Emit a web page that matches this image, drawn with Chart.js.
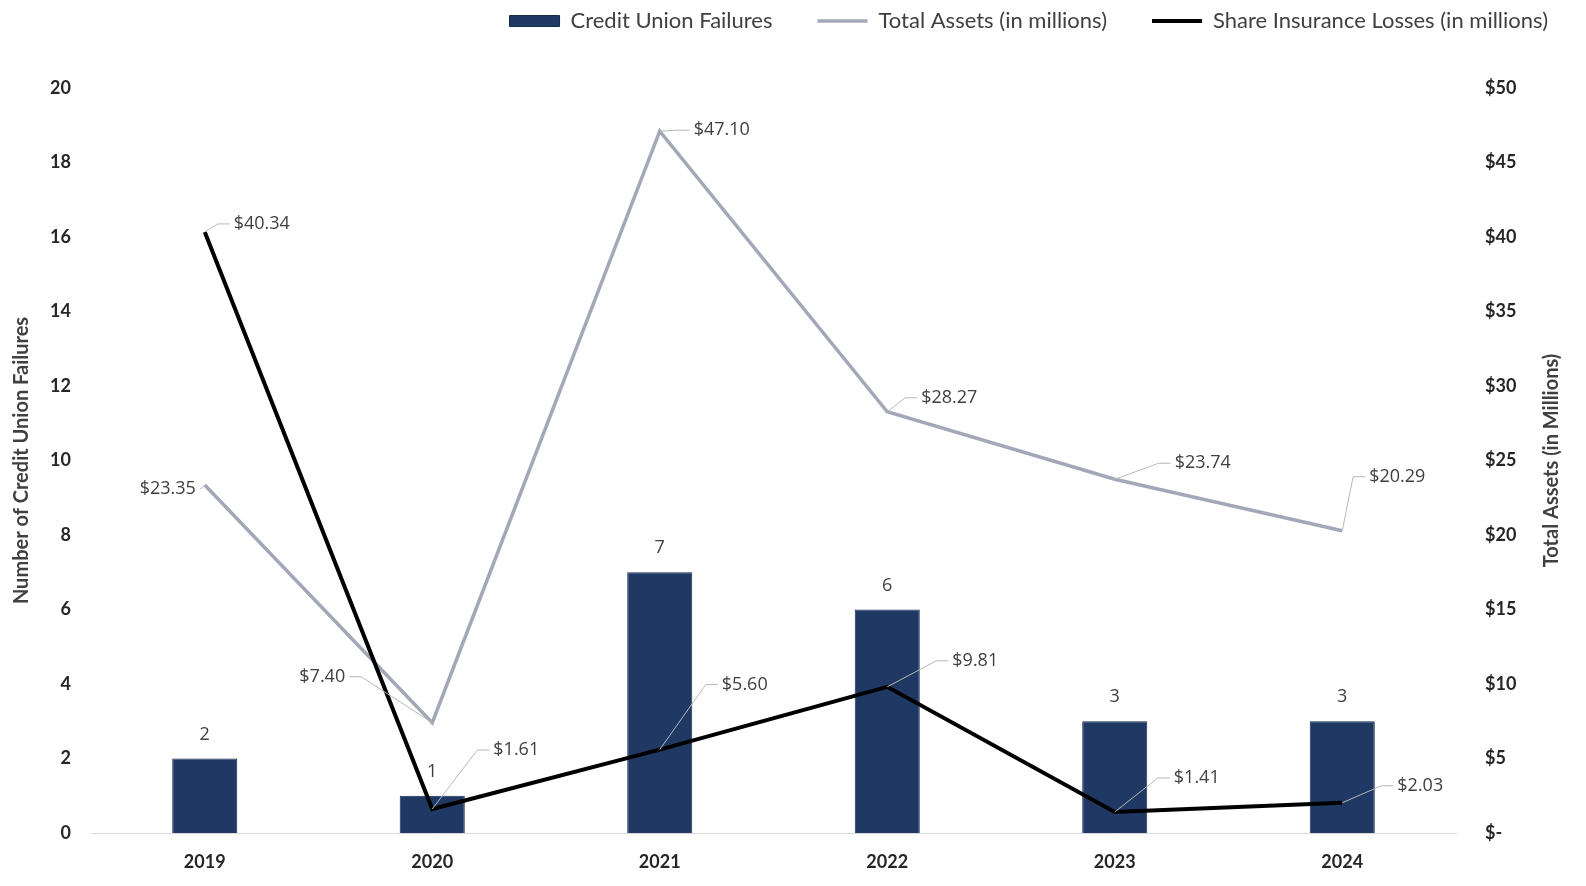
<!DOCTYPE html>
<html>
<head>
<meta charset="utf-8">
<script src="https://cdn.jsdelivr.net/npm/chart.js@4/dist/chart.umd.min.js"></script>
<style>
html,body{margin:0;padding:0;background:#fff;overflow:hidden;}
#wrap{width:1586px;height:886px;position:relative;overflow:hidden;}
canvas{display:block;}
</style>
</head>
<body>
<div id="wrap"><canvas id="c"></canvas></div>
<script>
// ---- data ----
const years = ['2019', '2020', '2021', '2022', '2023', '2024'];
const failures = [2, 1, 7, 6, 3, 3];
const totalAssets = [23.35, 7.40, 47.10, 28.27, 23.74, 20.29];
const insuranceLosses = [40.34, 1.61, 5.60, 9.81, 1.41, 2.03];
const leftTickLabels = ['0', '2', '4', '6', '8', '10', '12', '14', '16', '18', '20'];
const rightTickLabels = ['$-', '$5', '$10', '$15', '$20', '$25', '$30', '$35', '$40', '$45', '$50'];

// ---- label placement (pixel offsets of label centre from its point) ----
const assetLabelOffsets = [[-37, 4], [-110, -46], [62, -1], [62, -14], [88, -16], [55, -54]];
const lossLabelOffsets = [[57, -8], [84, -59], [85, -65], [88, -26], [82, -34], [78, -17]];

const TEXT = '#404040';
const FONT = 'Lato, "Open Sans", sans-serif';
const LABEL_FONT = '18px "Open Sans", sans-serif';

const layoutTweaks = {
  id: 'layoutTweaks',
  beforeLayout(chart) {
    const lg = chart.legend;
    if (lg && !lg._patched) {
      const orig = lg.fit;
      lg.fit = function () { orig.call(this); this.height = 88; };
      lg._patched = true;
    }
  },
  afterLayout(chart) {
    const lg = chart.legend;
    if (!lg) return;
    const pad = lg.options.labels.padding;
    const h = lg.bottom - lg.top;
    lg.top = 22 - pad - 12;
    lg.bottom = lg.top + h;
    lg.right = 1548 + pad;
  }
};

const valueLabels = {
  id: 'valueLabels',
  afterDatasetsDraw(chart) {
    const ctx = chart.ctx;
    ctx.save();
    ctx.font = LABEL_FONT;
    ctx.textAlign = 'center';
    ctx.textBaseline = 'middle';
    ctx.fillStyle = TEXT;
    const barMeta = chart.getDatasetMeta(0);
    barMeta.data.forEach((el, i) => {
      ctx.fillText(String(failures[i]), el.x, el.y - 24);
    });
    const sets = [[1, totalAssets, assetLabelOffsets], [2, insuranceLosses, lossLabelOffsets]];
    sets.forEach(([di, vals, offs]) => {
      const meta = chart.getDatasetMeta(di);
      meta.data.forEach((pt, i) => {
        const text = '$' + vals[i].toFixed(2);
        const w = ctx.measureText(text).width;
        const cx = pt.x + offs[i][0];
        const cy = pt.y + offs[i][1];
        const rightSide = offs[i][0] >= 0;
        const edgeX = rightSide ? cx - w / 2 - 4 : cx + w / 2 + 4;
        const elbowX = rightSide ? edgeX - 12 : edgeX + 12;
        ctx.strokeStyle = '#b8b8b8';
        ctx.lineWidth = 1;
        ctx.beginPath();
        ctx.moveTo(pt.x, pt.y);
        const useElbow = rightSide ? pt.x < elbowX : pt.x > elbowX;
        if (useElbow) ctx.lineTo(elbowX, cy);
        ctx.lineTo(edgeX, cy);
        ctx.stroke();
        ctx.fillStyle = TEXT;
        ctx.fillText(text, cx, cy);
      });
    });
    ctx.restore();
  },
  afterDraw(chart) {
    const ctx = chart.ctx;
    const ca = chart.chartArea;
    ctx.save();
    ctx.font = 'bold 20px ' + FONT;
    ctx.fillStyle = TEXT;
    ctx.textAlign = 'center';
    ctx.textBaseline = 'middle';
    ctx.translate(1552, (ca.top + ca.bottom) / 2);
    ctx.rotate(-Math.PI / 2);
    ctx.fillText('Total Assets (in Millions)', 0, 0);
    ctx.restore();
  }
};

Chart.defaults.font.family = FONT;
Chart.defaults.color = TEXT;

new Chart(document.getElementById('c'), {
  data: {
    labels: years,
    datasets: [
      {
        type: 'bar',
        label: 'Credit Union Failures',
        data: failures,
        yAxisID: 'y',
        backgroundColor: '#1f3864',
        borderColor: '#162a4f',
        borderWidth: 1,
        categoryPercentage: 1,
        barPercentage: 0.286,
        pointStyle: 'rect',
        order: 3
      },
      {
        type: 'line',
        label: 'Total Assets (in millions)',
        data: totalAssets,
        yAxisID: 'y1',
        borderColor: '#a3a8b8',
        backgroundColor: '#a3a8b8',
        borderWidth: 3.5,
        pointRadius: 0,
        pointHoverRadius: 0,
        tension: 0,
        pointStyle: 'line',
        order: 2
      },
      {
        type: 'line',
        label: 'Share Insurance Losses (in millions)',
        data: insuranceLosses,
        yAxisID: 'y1',
        borderColor: '#000000',
        backgroundColor: '#000000',
        borderWidth: 4,
        pointRadius: 0,
        pointHoverRadius: 0,
        tension: 0,
        pointStyle: 'line',
        order: 1
      }
    ]
  },
  options: {
    responsive: true,
    maintainAspectRatio: false,
    animation: false,
    layout: { padding: 0 },
    plugins: {
      tooltip: { enabled: false },
      legend: {
        position: 'top',
        align: 'end',
        labels: {
          usePointStyle: true,
          pointStyleWidth: 50,
          boxHeight: 11,
          padding: 45,
          color: TEXT,
          font: { size: 22, family: FONT },
          sort: (a, b) => a.datasetIndex - b.datasetIndex
        }
      }
    },
    scales: {
      x: {
        grid: { display: false, drawTicks: false },
        border: { display: true, color: '#d9d9d9', width: 1 },
        ticks: { padding: 18, color: '#262626', font: { size: 18, weight: 'bold', family: FONT } },
        afterFit(s) { s.height = 53; }
      },
      y: {
        position: 'left',
        min: 0,
        max: 20,
        grid: { display: false, drawTicks: false },
        border: { display: false },
        ticks: {
          stepSize: 2,
          padding: 20,
          color: '#262626',
          font: { size: 18, weight: 'bold', family: FONT },
          callback: (v, i) => leftTickLabels[i]
        },
        title: {
          display: true,
          text: 'Number of Credit Union Failures',
          color: TEXT,
          font: { size: 20, weight: 'bold', family: FONT },
          padding: { top: 10, bottom: 0 }
        },
        afterFit(s) { s.width = 91; }
      },
      y1: {
        position: 'right',
        min: 0,
        max: 50,
        grid: { display: false, drawTicks: false },
        border: { display: false },
        ticks: {
          stepSize: 5,
          padding: 29,
          color: '#262626',
          font: { size: 18, weight: 'bold', family: FONT },
          callback: (v, i) => rightTickLabels[i]
        },
        title: { display: false },
        afterFit(s) { s.width = 130; }
      }
    }
  },
  plugins: [layoutTweaks, valueLabels]
});
</script>
</body>
</html>
